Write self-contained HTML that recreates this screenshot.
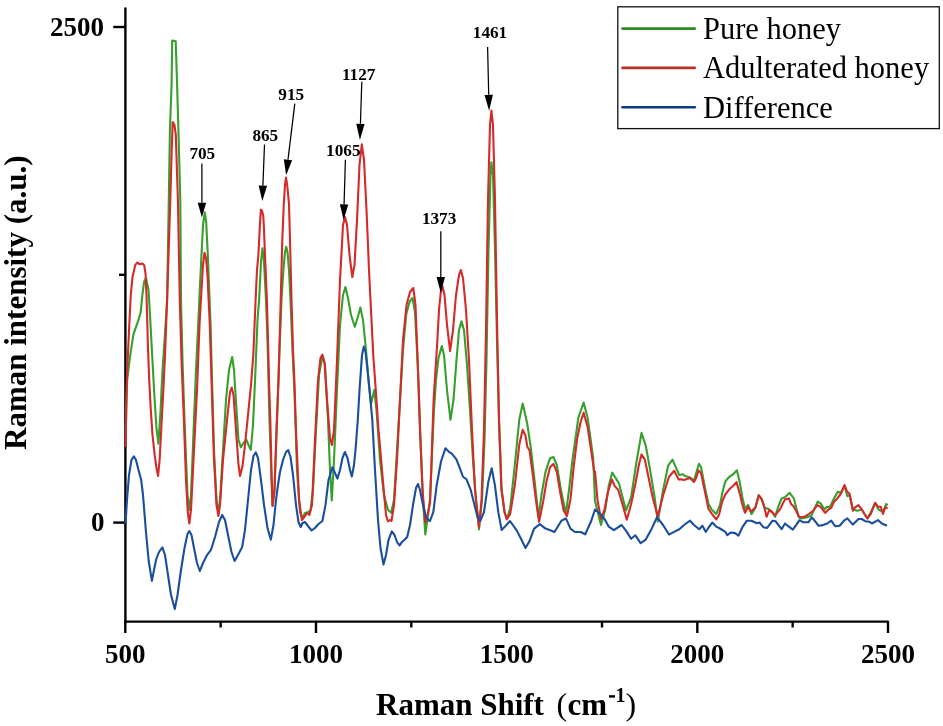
<!DOCTYPE html>
<html><head><meta charset="utf-8"><style>
html,body{margin:0;padding:0;background:#fff;}
body{width:943px;height:726px;overflow:hidden;font-family:"Liberation Serif",serif;}
svg{display:block;will-change:transform;}
</style></head><body>
<svg width="943" height="726" viewBox="0 0 943 726">
<rect width="943" height="726" fill="#fff"/>
<line x1="125.4" y1="8.4" x2="125.4" y2="622.6" stroke="#000" stroke-width="2.4" stroke-linecap="round"/>
<line x1="124.2" y1="621.6" x2="888.6" y2="621.6" stroke="#000" stroke-width="2.4"/>
<line x1="125.30" y1="621" x2="125.30" y2="633" stroke="#000" stroke-width="2.4"/>
<line x1="315.98" y1="621" x2="315.98" y2="633" stroke="#000" stroke-width="2.4"/>
<line x1="506.65" y1="621" x2="506.65" y2="633" stroke="#000" stroke-width="2.4"/>
<line x1="697.32" y1="621" x2="697.32" y2="633" stroke="#000" stroke-width="2.4"/>
<line x1="888.00" y1="621" x2="888.00" y2="633" stroke="#000" stroke-width="2.4"/>
<line x1="220.64" y1="621" x2="220.64" y2="627.5" stroke="#000" stroke-width="2.4"/>
<line x1="411.31" y1="621" x2="411.31" y2="627.5" stroke="#000" stroke-width="2.4"/>
<line x1="601.99" y1="621" x2="601.99" y2="627.5" stroke="#000" stroke-width="2.4"/>
<line x1="792.66" y1="621" x2="792.66" y2="627.5" stroke="#000" stroke-width="2.4"/>
<line x1="113.2" y1="522.60" x2="126" y2="522.60" stroke="#000" stroke-width="2.4"/>
<line x1="113.2" y1="27.00" x2="126" y2="27.00" stroke="#000" stroke-width="2.4"/>
<line x1="119" y1="274.80" x2="126" y2="274.80" stroke="#000" stroke-width="2.4"/>
<text x="104" y="36" font-family="Liberation Serif" font-weight="bold" font-size="27" text-anchor="end">2500</text>
<text x="104.5" y="531" font-family="Liberation Serif" font-weight="bold" font-size="27" text-anchor="end">0</text>
<text x="125.30" y="663" font-family="Liberation Serif" font-weight="bold" font-size="27" text-anchor="middle">500</text>
<text x="315.98" y="663" font-family="Liberation Serif" font-weight="bold" font-size="27" text-anchor="middle">1000</text>
<text x="506.65" y="663" font-family="Liberation Serif" font-weight="bold" font-size="27" text-anchor="middle">1500</text>
<text x="697.32" y="663" font-family="Liberation Serif" font-weight="bold" font-size="27" text-anchor="middle">2000</text>
<text x="888.00" y="663" font-family="Liberation Serif" font-weight="bold" font-size="27" text-anchor="middle">2500</text>
<polyline points="125.8,430 126.5,400 127.2,380 129.9,357.4 133.4,334.3 137.9,321.7 140.6,312.7 142.4,294.8 144.2,281.4 146,278 148.5,290 150,315 151.6,345 153,370 154.2,392.6 156.4,427.4 158.4,443.6 160.6,409.7 162.5,370 164.6,340 167.1,300 168.8,200 169.9,130 171.6,85 172.2,40.5 175.7,41.3 177.1,85 178.4,130 180.3,200 181,300 182.5,360 184.5,420 187.5,495 189.3,510 191,495 194,420 196,370 198.2,325 200,285 201.5,254.6 203,225 204.8,212.4 206.2,222 207.8,254.6 209.2,290 210.6,325 212,380 214,450 216.5,500 218.4,513 220,500 223,450 226,400 229,370 232.2,357 234,370 236.5,410 238.5,440 240.9,447.3 243.5,443 246.4,439.8 248.5,445 250.8,449.8 253,425 255.5,370 257.5,320 259.1,300 261,262 262.5,248.2 264,262 266,300 267.5,340 269.5,420 271.5,480 272.5,505 274.5,490 277,420 279.5,350 281.5,300 283.4,270 285,252 286.2,246.8 287.5,252 289,270 290.5,300 292.5,350 294.4,390 297,470 300,512 302,518 305,513 308.2,512 310.5,510 313,490 316,430 319,375 322.4,356 325,365 328,420 330,470 331.8,500.5 334,460 337,390 340,325 343,295 345.4,287 348,298 351,315 354.8,326.8 357.5,318 360.4,307.6 363,320 366,350 369,385 371,404 374.3,390 376.5,410 380,460 384,495 388,510 391.2,512.8 394,500 397,450 400,400 403,350 406.3,314 409.5,302 412.5,298 415,312 418,370 420.5,440 423,500 425.3,534.5 428,515 430,500 432.2,450 434,410 436,380 438.5,358 441.8,346 444,355 447,390 450.5,419.8 453.5,400 456.5,360 459,330 461.5,321.3 464,330 467,365 470,410 473,460 476,500 479,529.4 482,500 484.5,440 486.5,360 488.5,250 490.5,175 491.4,162.3 493,175 495,250 497,340 499,420 501.5,490 502,494 504.5,512 506.9,519 510.2,508.2 514.8,465 519.3,419.5 522.7,403.6 527.3,424.1 530.7,446.8 534.1,476.4 538.6,517.3 541.5,495 545.5,471.8 550,458.2 553.4,457 556.8,465 561.4,492.3 565.9,513.9 569,490 572.7,458.2 578.4,417.3 583.6,402.5 587.5,417.3 590,435 593.2,458.2 595,500.9 601,525 605.3,509.5 608.8,485.4 612.2,472.5 616.5,479.4 619.1,483.7 626,510.4 631.1,497.5 636.3,463 641.5,432.9 645.8,445.8 650.1,469.9 654.4,495.7 657.8,521.5 663,490.6 668.1,465.6 672.5,459.6 675.9,467.3 679.3,475.1 682.8,474.2 685,476 690,477.5 694,480.5 696.5,472 698.9,463.7 701,467 705,488 708.5,504 712,510 716.2,514.1 720,505 722.5,492 725.3,481.4 729.3,476.8 733.2,474.2 736.9,470.3 739.7,482 742.5,498 745,508.9 748.2,505 751.5,514.1 755.4,507.6 758.7,495.2 762,500 764.6,507.6 768.5,508.9 772,512 775.1,516.8 778.5,506 781.6,498.4 785,497.3 789.5,492.8 793.9,498.4 796.3,508 798.9,517.3 801.7,518.4 807.3,517.3 811.7,515.1 815.1,507.3 817.8,501.7 820.6,503.4 824.5,509.5 826.8,506.8 830,507 834,498.4 837.9,491.7 840.7,492.8 844.6,486.2 847.4,496.2 849.6,495 852.9,509.5 857.4,510.7 861.8,509.5 864.5,514 867.4,518.4 871,512 875.2,502.9 878.5,509.5 883,511.8 886.3,504 887.8,505.1" fill="none" stroke="#35a02c" stroke-width="2.1" stroke-linejoin="round"/>
<polyline points="125.6,447 126.2,410 126.8,380 129,330.7 130.8,294.8 132.5,276.9 135.2,265.2 137.4,262.5 139.7,264.3 142.4,263.4 144.2,265.2 145.5,273.3 146.5,294.8 147.9,345 149.2,380 150.7,408.4 152.5,435 154.8,455.9 156.5,468 158.1,476 159.7,459 161.4,426 163.2,393 164.8,360 167.1,300 170.3,200 171.7,150 172.7,122 174.5,125 175.8,135 177.9,200 179.8,300 181.5,360 183.9,420 186,480 187.8,512 189.3,523.5 191,510 194,450 197,390 199.5,325 201.5,290 203,265 204.5,252.9 206,258 207.5,275 209.8,325 211.5,380 214,460 216.5,505 218.4,516 220,505 223,460 227,420 230,392 231.7,387.5 233.5,395 236,430 238.5,465 240.1,476 242.5,466 245,445 248,415 251,385 253.3,355 255.6,300 257,270 258.4,255 259.8,227 260.9,209.6 262,211 263.2,215 263.9,227 265,255 266.9,300 268,340 269,381 270.3,420 271.5,470 272.5,506 274.5,490 276.5,430 278.5,381 280.7,300 282.3,240 283.8,204 285,185 286,177.6 287.2,185 289,204 290,240 291.5,300 293,350 294.4,381 296,430 299,500 301.9,520 305,516 307,513 309.4,515 312,505 315,440 318,380 320.5,358 322.4,354.7 324.5,362 327,400 330,438 331.9,445 334,430 337,360 340,280 343,225 345,217 347,225 349.5,255 352.3,277 354.5,265 357,220 359.5,165 361.8,144.4 364,160 366.5,210 368,245 369,270 371,310 373.3,356 376.5,400 378.5,430 380.5,452 383,482 386,515 388,521.5 390,520 391.5,521 394,505 397,460 400,400 403,340 406.5,305 410,292 413.3,288 415.5,305 418,370 420,430 422.5,490 425.3,522.5 427.5,515 430,503 431.2,470 432.2,440 433.6,400 435.5,370 437.1,345 439,310 440.8,292 442.5,286.5 444.5,295 447,325 450.1,351 453,330 456,295 459,275 460.8,270 463,278 466,310 469,360 472,430 475,490 479,527 481.5,500 484,430 486,330 488,200 490,125 491.4,110.5 493,125 495,200 497,320 499,420 501.5,490 502.3,494.5 504.5,512 506.8,519.5 510.2,513.9 514.8,485.5 519.3,444.5 522.7,429.8 525.5,435.5 527.3,446.8 529.5,450.2 533,476.4 536.4,503.6 539.1,521.8 543.2,501.4 546.6,480.9 550,467.3 553.4,463.9 556.8,471.8 560.2,492.3 563.6,510.5 567,516.1 570.5,499.1 573.9,465 577.3,437.7 580.7,421.8 583.6,412.7 587.5,426.4 590.9,449.1 594.3,471.8 595,471.6 597.6,500.9 601,519 604.5,509.5 607.9,492.3 611.9,479.4 614.8,486.3 618.2,489.7 622.5,504.3 626.8,519.8 631.1,504.3 635.4,483.7 638.9,464.8 641.5,454.4 644.9,459.6 648.4,476.8 652.7,497.5 657.8,516.4 663,495.7 669,476.8 674.2,470.8 678.5,479.4 681.9,479.4 684,480 687,479 690,478 694,482 696.5,477 698.5,470.5 701,473 705,492 708.5,509 712,514 716.2,519.4 719,515 722,502 725.3,494.5 729.3,489.3 733,486 736.5,482.1 739.7,493.2 742.5,505 745,512.8 748.2,506.9 750.9,511.5 755.4,507.6 758.7,495.2 762,499.7 764.5,508 766.6,516.8 769.2,510.2 772,512 775.1,515.4 780.3,508.9 783,503 785,499.5 788.9,498.4 791.1,504 793.4,506.2 796.1,510.7 798.9,516.8 801.7,517.3 805.6,516.2 808.9,514 812.8,511.2 817.3,505.1 820.6,506.8 825.1,512.9 828.4,509.5 831.2,507.9 834,501.7 837.3,498.4 840.7,494 844.6,485 846.8,491.2 849.6,494 852.9,510.7 855.1,507.3 858.5,505.1 861.8,509.5 864.5,514 867.4,518.4 870.7,514 873,508 875.2,502.9 878,506.8 880.8,506.8 883,514 885.2,507.3 887.6,508.4" fill="none" stroke="#d42a2a" stroke-width="2.1" stroke-linejoin="round"/>
<polyline points="125.5,523.8 127,500 129,475 131.5,460 133.8,456.3 136,460 138.5,470 141.2,480 143,495 145.8,530 148.7,561 151.9,580.9 154,570 156.1,559.7 159,552 162.4,547.3 165,555 168,575 171,595 174.8,609.1 177.5,595 181,570 184.5,548 187.5,534 189.3,531 191.5,535 194,548 197,563 199.8,571 203,563 207.2,554.8 211,549.8 215,537 219,522 222.2,514.9 225,520 228,535 231.5,552 234.6,561 238,555 242.1,547.3 245,530 248,500 251,470 253.5,456 255.8,452.3 258,458 261,480 264,505 267.5,528 270.8,539.8 273.5,525 276,500 278,485 280,472 283,460 286,452 288.2,450 290.5,457 293,475 296,505 298.5,522 300.7,527 302.5,523 305,522 308,526 311.6,530.5 315,528 318.5,524 322.4,521 325.5,505 328.5,480 332.4,467.3 335,473 337.4,478.6 340,470 342.5,458 344.9,452 347.5,458 350,470 351.8,476.5 354,465 355.5,450 357.8,420 359.5,390 362,355 363.8,346.5 365.5,352 367.5,370 370,395 372.3,420 375,470 378,520 380.5,548 383.5,564.5 386,555 388.5,540 391.8,531.4 394.5,535 397,542 399.4,545.5 402,542 404.6,539.7 407.2,537 410,525 413,505 416,488 418,484 420,490 423,505 426,517 428.4,520 430,521 433.3,512.2 436.6,485.8 441,461.5 445.4,448.3 448.7,451.6 452,453.8 456.4,459.3 459.8,468.2 463.1,477 466.4,479.2 470.8,490.2 474.1,503.4 477.4,516.6 480.2,521 484,512.2 488.4,481.4 491.7,468.2 495,485.8 498.3,512.2 501.6,529.9 506,525.5 510,521 517,530.9 521.6,540 525.5,548 529.5,541.1 534.1,528.6 539.8,524.1 545.5,528.6 548.9,529.8 554.5,532 561.4,520.7 565.9,518.4 570.5,528.6 575,532 580.7,532 585.2,534.3 590.9,521.8 595,509.5 600.2,513.8 604.5,519 608.8,526.7 613.9,530.2 616.5,528.4 621.7,525 626.8,531.9 631.1,538.8 635.4,535.3 640.6,543.1 645.8,539.6 651.8,528.4 657,517.2 663,525 669,534.5 674.2,531.9 679.3,529.3 684,525 690,520.7 694,525 699.2,529.2 702.4,525.7 705.7,531.8 709,527 712.3,522.6 716.2,526.6 720,528.5 725.3,531.8 727.3,535.1 730.6,532.5 735.2,533.1 738.4,535.7 742.4,527.2 746.9,520.7 751.5,520.7 756.8,523.3 759.5,522.5 763.3,527.2 767.2,527.9 772.5,520.7 775.7,521.3 781.6,529.2 785,523.5 788.3,526.2 792.8,529.6 796.1,525.1 799.5,520.1 803.4,522.3 808.4,522.3 811.7,517.3 815.1,521.2 818.4,525.7 822.9,525.1 827.3,523.5 831.2,520.7 835.1,526.2 839.6,525.7 844,520.7 847.4,518.4 852.9,524.6 858.5,519 861.8,519 865.2,521.2 869.6,521.8 871.9,523.5 878,520.1 881.9,523.5 886.9,525.7" fill="none" stroke="#1a4e9e" stroke-width="2.1" stroke-linejoin="round"/>
<line x1="201.9" y1="163.4" x2="201.90" y2="202.70" stroke="#000" stroke-width="1.25"/><polygon points="201.9,217.6 197.70,202.70 206.10,202.70" fill="#000"/>
<line x1="264.5" y1="144.4" x2="262.89" y2="185.70" stroke="#000" stroke-width="1.25"/><polygon points="262.3,201.0 258.70,185.54 267.09,185.86" fill="#000"/>
<line x1="294.8" y1="103.7" x2="287.99" y2="159.70" stroke="#000" stroke-width="1.25"/><polygon points="286.1,175.2 283.82,159.19 292.16,160.21" fill="#000"/>
<line x1="345.4" y1="159.8" x2="344.06" y2="204.40" stroke="#000" stroke-width="1.25"/><polygon points="343.6,219.9 339.87,204.27 348.26,204.53" fill="#000"/>
<line x1="361.8" y1="81.7" x2="360.43" y2="123.80" stroke="#000" stroke-width="1.25"/><polygon points="359.9,139.9 356.23,123.66 364.62,123.94" fill="#000"/>
<line x1="440.8" y1="231.2" x2="440.80" y2="277.00" stroke="#000" stroke-width="1.25"/><polygon points="440.8,293.0 436.60,277.00 445.00,277.00" fill="#000"/>
<line x1="487.6" y1="47.1" x2="488.72" y2="94.80" stroke="#000" stroke-width="1.25"/><polygon points="489.1,110.8 484.52,94.90 492.92,94.70" fill="#000"/>
<text x="202.3" y="159.4" font-family="Liberation Serif" font-weight="bold" font-size="17.2" text-anchor="middle">705</text>
<text x="265.3" y="140.6" font-family="Liberation Serif" font-weight="bold" font-size="17.2" text-anchor="middle">865</text>
<text x="291.2" y="100.0" font-family="Liberation Serif" font-weight="bold" font-size="17.2" text-anchor="middle">915</text>
<text x="343.3" y="155.5" font-family="Liberation Serif" font-weight="bold" font-size="17.2" text-anchor="middle">1065</text>
<text x="358.7" y="79.8" font-family="Liberation Serif" font-weight="bold" font-size="17.2" text-anchor="middle">1127</text>
<text x="439.1" y="224.1" font-family="Liberation Serif" font-weight="bold" font-size="17.2" text-anchor="middle">1373</text>
<text x="490.0" y="38.0" font-family="Liberation Serif" font-weight="bold" font-size="17.2" text-anchor="middle">1461</text>
<text x="376" y="715" font-family="Liberation Serif" font-size="31" font-weight="bold">Raman Shift</text>
<text x="556.5" y="715" font-family="Liberation Serif" font-size="32">(</text>
<text x="567.5" y="715" font-family="Liberation Serif" font-size="31" font-weight="bold">cm</text>
<rect x="609" y="695.2" width="6" height="2.4" fill="#000"/>
<text x="615.5" y="702" font-family="Liberation Serif" font-weight="bold" font-size="20">1</text>
<text x="625.5" y="715" font-family="Liberation Serif" font-size="32">)</text>
<text transform="translate(26,450) rotate(-90)" x="0" y="0" font-family="Liberation Serif" font-weight="bold" font-size="31">Raman intensity (a.u.)</text>
<rect x="617.8" y="6.8" width="321.5" height="121.8" fill="#fff" stroke="#111" stroke-width="1.3"/>
<line x1="622.5" y1="28.6" x2="694.8" y2="28.6" stroke="#2b8a1e" stroke-width="2.6" stroke-linecap="round"/>
<text x="703" y="39.1" font-family="Liberation Serif" font-size="30.5">Pure honey</text>
<line x1="622.5" y1="67.9" x2="694.8" y2="67.9" stroke="#b8322a" stroke-width="2.6" stroke-linecap="round"/>
<text x="703" y="78.4" font-family="Liberation Serif" font-size="30.5">Adulterated honey</text>
<line x1="622.5" y1="107.2" x2="694.8" y2="107.2" stroke="#0b3a86" stroke-width="2.6" stroke-linecap="round"/>
<text x="703" y="117.7" font-family="Liberation Serif" font-size="30.5">Difference</text>
</svg>
</body></html>
